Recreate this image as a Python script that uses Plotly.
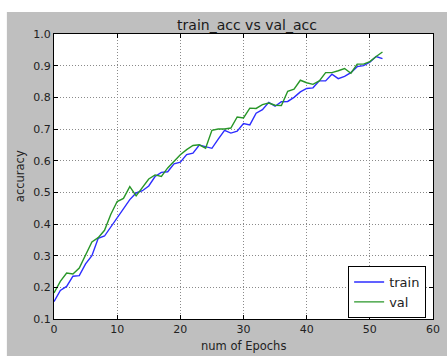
import plotly.graph_objects as go

epochs = list(range(53))
train_acc = [0.155, 0.19, 0.203, 0.235, 0.237, 0.274, 0.30, 0.355, 0.362, 0.39,
             0.42, 0.445, 0.477, 0.498, 0.505, 0.52, 0.55, 0.563, 0.565, 0.59,
             0.595, 0.619, 0.624, 0.649, 0.643, 0.639, 0.668, 0.696, 0.687, 0.693,
             0.717, 0.713, 0.75, 0.761, 0.784, 0.772, 0.786, 0.787, 0.80, 0.817,
             0.828, 0.83, 0.852, 0.852, 0.873, 0.859, 0.866, 0.878, 0.897, 0.90,
             0.911, 0.929, 0.922]
val_acc = [0.182, 0.219, 0.245, 0.242, 0.261, 0.30, 0.343, 0.357, 0.38, 0.431,
           0.471, 0.481, 0.518, 0.489, 0.514, 0.542, 0.555, 0.55, 0.577, 0.598,
           0.619, 0.635, 0.648, 0.65, 0.639, 0.696, 0.70, 0.70, 0.703, 0.738,
           0.735, 0.766, 0.765, 0.777, 0.782, 0.775, 0.774, 0.819, 0.826, 0.854,
           0.846, 0.841, 0.852, 0.878, 0.878, 0.884, 0.891, 0.876, 0.905, 0.905,
           0.913, 0.929, 0.943]
series_names = ["train", "val"]
title_text = "train_acc vs val_acc"
x_label = "num of Epochs"
y_label = "accuracy"

FONT = "DejaVu Sans"
W, H = 447, 356
L, R, T, B = 54, 7, 34, 37
PW, PH = W - L - R, H - T - B


def px_x(p):
    return (p - L) / PW


def px_y(p):
    return (H - B - p) / PH


fig = go.Figure()
fig.add_trace(go.Scatter(x=epochs, y=train_acc, mode="lines", name=series_names[0],
                         line=dict(color="rgb(45,45,255)", width=1.4)))
fig.add_trace(go.Scatter(x=epochs, y=val_acc, mode="lines", name=series_names[1],
                         line=dict(color="rgb(40,150,40)", width=1.4)))

axis_common = dict(
    showline=True, linecolor="black", linewidth=1, mirror="ticks",
    ticks="inside", ticklen=4, tickcolor="black", tickwidth=1,
    showgrid=True, gridcolor="#8a8a8a", griddash="1px,2px", gridwidth=1,
    zeroline=False, tickfont=dict(family=FONT, size=11, color="#222"),
)

fig.update_layout(
    width=W, height=H,
    margin=dict(l=L, r=R, t=T, b=B),
    paper_bgcolor="#bfbfbf", plot_bgcolor="white",
    font=dict(family=FONT, color="#222"),
    title=dict(text=title_text, x=(247) / W, xanchor="center",
               y=1 - 25.5 / H, yanchor="middle",
               font=dict(family=FONT, size=14, color="#1a1a1a")),
    xaxis=dict(range=[0, 60], dtick=10, tick0=0, **axis_common),
    yaxis=dict(range=[0.1, 1.0], dtick=0.1, tick0=0.1, tickformat=".1f", **axis_common),
    showlegend=True,
    legend=dict(x=px_x(433), y=px_y(266), xanchor="right", yanchor="top",
                bgcolor="white", bordercolor="black", borderwidth=1,
                font=dict(family=FONT, size=13, color="#222"),
                tracegroupgap=0),
    annotations=[
        dict(text=x_label, xref="paper", yref="paper", x=0.5, y=px_y(346),
             xanchor="center", yanchor="middle", showarrow=False,
             font=dict(family=FONT, size=11.5, color="#222")),
        dict(text=y_label, xref="paper", yref="paper", x=px_x(19), y=0.5,
             xanchor="center", yanchor="middle", showarrow=False, textangle=-90,
             font=dict(family=FONT, size=11.5, color="#222")),
    ],
    shapes=[
        dict(type="rect", xref="paper", yref="paper", layer="below",
             x0=-0.3, x1=px_x(6), y0=-0.3, y1=1.4,
             fillcolor="white", line=dict(width=0)),
        dict(type="rect", xref="paper", yref="paper", layer="below",
             x0=-0.3, x1=1.3, y0=px_y(12), y1=1.4,
             fillcolor="white", line=dict(width=0)),
    ],
)

fig.write_html("out.html")
